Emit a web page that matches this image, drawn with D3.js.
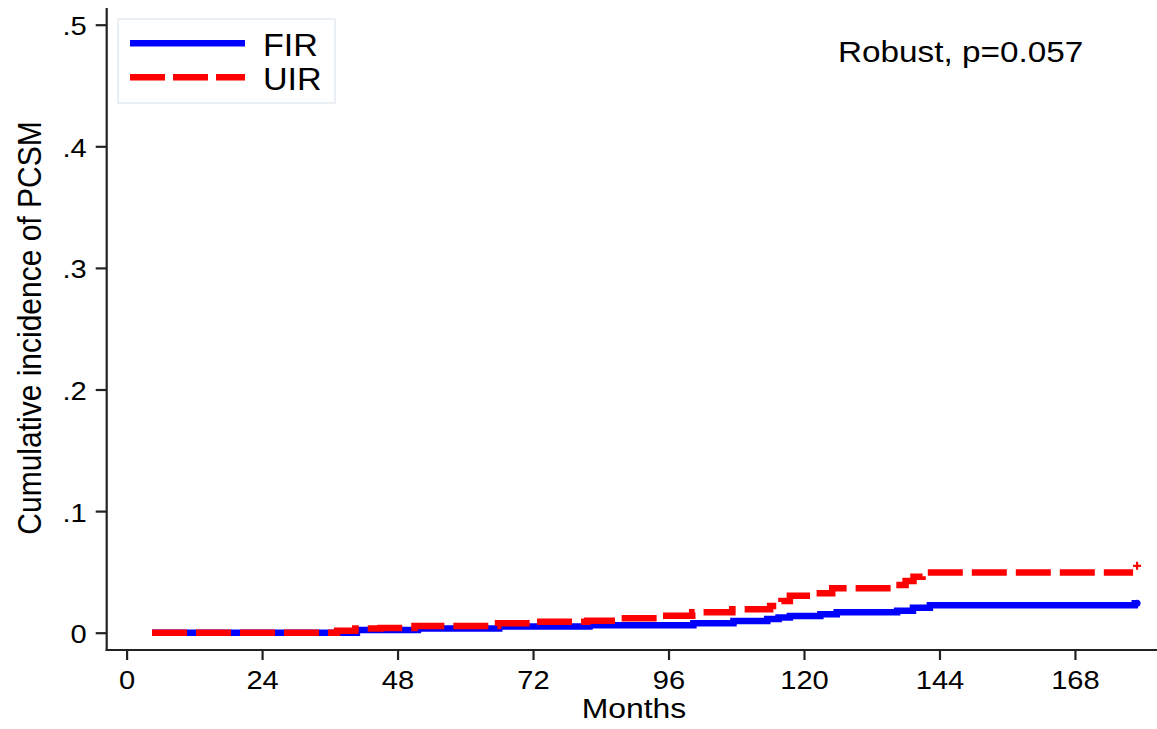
<!DOCTYPE html>
<html>
<head>
<meta charset="utf-8">
<script src="https://cdn.jsdelivr.net/npm/d3@7"></script>
<style>
  html, body { margin: 0; padding: 0; background: #fff; }
  svg { display: block; }
  text { font-family: Arial, "Liberation Sans", Helvetica, sans-serif; fill: #000; }
</style>
</head>
<body>
<svg id="chart" width="1157" height="729"></svg>
<script>
// ---- data ----
const xTicks = [0, 24, 48, 72, 96, 120, 144, 168];
const yTicks = [0, 0.1, 0.2, 0.3, 0.4, 0.5];
const yTickLabels = ["0", ".1", ".2", ".3", ".4", ".5"];

const firMonths = [4.5, 40.8, 51.6, 66, 82, 100.4, 107.5, 113.5, 115.5, 117.5, 122.9, 125.8, 136.5, 139.3, 142.3, 178.6, 179.0];
const firValues = [0, 0.0022, 0.0035, 0.0050, 0.0061, 0.0077, 0.0096, 0.0113, 0.0125, 0.0137, 0.0151, 0.0168, 0.0181, 0.0206, 0.0225, 0.0242, 0.0242];

const uirMonths = [4.5, 37.3, 40.5, 45, 51, 65.8, 72.7, 81.6, 87.5, 94.5, 100.2, 107.3, 114, 116, 117.5, 121.6, 125, 135.6, 138, 139.4, 141, 178.3];
const uirValues = [0, 0.0016, 0.0035, 0.0039, 0.0055, 0.0077, 0.0090, 0.0099, 0.0118, 0.0140, 0.0168, 0.0192, 0.0220, 0.0260, 0.0304, 0.0324, 0.0365, 0.0392, 0.0425, 0.0460, 0.0495, 0.0495];
const uirLastMonth = 179.0, uirLastValue = 0.055;

const seriesNames = ["FIR", "UIR"];
const seriesColors = ["#0000ff", "#ff0000"];
const annotation = "Robust, p=0.057";
const xTitle = "Months";
const yTitle = "Cumulative incidence of PCSM";

// ---- layout ----
const svg = d3.select("#chart");
const x = d3.scaleLinear().domain([0, 168]).range([126.6, 126.6 + 168 * 5.645]);
const y = d3.scaleLinear().domain([0, 0.5]).range([632.7, 24.7]);
const axisX = 106.7, axisY = 650;
const SX = 1.12; // horizontal text stretch seen in reference

// axes lines
svg.append("line").attr("x1", axisX).attr("x2", axisX).attr("y1", 8).attr("y2", axisY + 1)
  .attr("stroke", "#222").attr("stroke-width", 2.2);
svg.append("line").attr("x1", axisX - 1).attr("x2", 1157).attr("y1", axisY).attr("y2", axisY)
  .attr("stroke", "#222").attr("stroke-width", 2.2);

// x axis ticks via d3 axis
const gx = svg.append("g").attr("transform", `translate(0,${axisY})`)
  .call(d3.axisBottom(x).tickValues(xTicks).tickSize(10).tickSizeOuter(0).tickFormat(""));
gx.select(".domain").remove();
gx.selectAll(".tick line").attr("stroke", "#222").attr("stroke-width", 2.2);
gx.selectAll(".tick").append("text")
  .attr("text-anchor", "middle").attr("font-size", 26)
  .attr("transform", `translate(0,39) scale(${SX},1)`)
  .text(d => d);

const gy = svg.append("g").attr("transform", `translate(${axisX},0)`)
  .call(d3.axisLeft(y).tickValues(yTicks).tickSize(11).tickSizeOuter(0).tickFormat(""));
gy.select(".domain").remove();
gy.selectAll(".tick line").attr("stroke", "#222").attr("stroke-width", 2.2);
gy.selectAll(".tick").append("text")
  .attr("text-anchor", "end").attr("font-size", 26)
  .attr("transform", `translate(-20,10) scale(${SX},1)`)
  .text((d, i) => yTickLabels[i]);

// titles
svg.append("text").attr("text-anchor", "middle").attr("font-size", 28)
  .attr("transform", `translate(634,718) scale(1.14,1)`).text(xTitle);
svg.append("text").attr("text-anchor", "middle").attr("font-size", 30)
  .attr("transform", `translate(41,328) rotate(-90) scale(1,1.1)`).text(yTitle);

// annotation
svg.append("text").attr("text-anchor", "start").attr("font-size", 30)
  .attr("transform", `translate(838,62) scale(1.11,1)`).text(annotation);

// curves
const line = d3.line().x(d => x(d[0])).y(d => y(d[1])).curve(d3.curveStepAfter);
const fir = firMonths.map((m, i) => [m, firValues[i]]);
const uir = uirMonths.map((m, i) => [m, uirValues[i]]);

svg.append("path").attr("d", line(fir)).attr("fill", "none")
  .attr("stroke", seriesColors[0]).attr("stroke-width", 6.5);
svg.append("path").attr("d", line(uir)).attr("fill", "none")
  .attr("stroke", seriesColors[1]).attr("stroke-width", 6.5)
  .attr("stroke-dasharray", "35,9");

// end marks
const lastF = fir[fir.length - 1];
svg.append("circle").attr("cx", x(lastF[0])).attr("cy", y(lastF[1])).attr("r", 3.5)
  .attr("fill", seriesColors[0]);
const px = x(uirLastMonth), py = y(uirLastValue);
svg.append("path").attr("d", `M${px - 4},${py}H${px + 4}M${px},${py - 4}V${py + 4}`)
  .attr("stroke", seriesColors[1]).attr("stroke-width", 2.2).attr("fill", "none");

// legend
const lg = svg.append("g");
lg.append("rect").attr("x", 118).attr("y", 19).attr("width", 217).attr("height", 84)
  .attr("fill", "#fff").attr("stroke", "#e3eaf1").attr("stroke-width", 1.5);
const legY = [43.3, 77.3];
seriesNames.forEach((name, i) => {
  lg.append("line").attr("x1", 130).attr("x2", 245).attr("y1", legY[i]).attr("y2", legY[i])
    .attr("stroke", seriesColors[i]).attr("stroke-width", 6.5)
    .attr("stroke-dasharray", i === 1 ? "35,8" : null);
  lg.append("text").attr("font-size", 31)
    .attr("transform", `translate(263,${legY[i] + 12.5}) scale(1.1,1)`).text(name);
});
</script>
</body>
</html>
